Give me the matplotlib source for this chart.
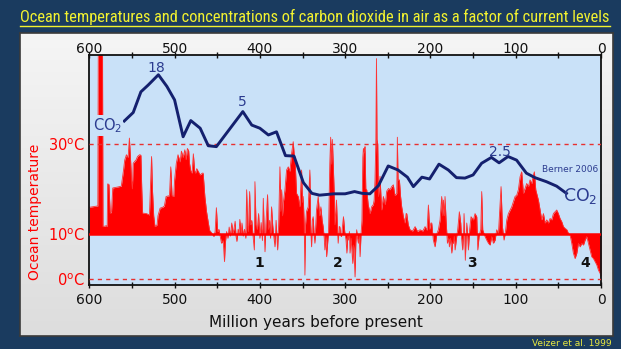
import numpy as np
import matplotlib
matplotlib.use('Agg')
import matplotlib.pyplot as plt
from matplotlib.lines import Line2D
from matplotlib import font_manager

# ocean temperature (Veizer et al. 1999), age in Myr before present
temp_age = [600, 590, 589.5, 584.5, 584, 580, 579, 578.5, 577, 575.5, 574, 572.5, 567, 562.5,
            560, 558.5, 556.5, 554.5, 553, 551.5, 550.5, 549.5, 548.5, 545, 543.5, 541, 539.5,
            538.5, 537.5, 533, 529.5, 528, 527, 526, 524.5, 523, 520.5, 519.5, 517, 514, 512,
            510, 506, 504.5, 503, 501, 500, 498, 496, 493.5, 492, 490, 488, 486.5, 485, 483.5,
            482.5, 481, 479.5, 478, 476.5, 475.5, 474, 470, 467.5, 466.5, 464.5, 462.5, 460.5,
            459, 456.5, 454, 452.5,
            451, 449.5, 448, 446.5, 445, 443, 441.5, 440.5, 439, 437.5, 436, 434.5, 433, 431.5,
            430, 429, 428, 427, 425.5, 424.5, 423.5, 422, 421, 419.5, 418, 416.5, 415.5, 414.5,
            413.5, 412, 411, 409.5, 408, 406.5, 405.8, 404.5, 403, 401.5, 400, 398.5, 397, 396,
            395, 394, 393, 391, 390, 388.5, 387.5, 386.3, 385, 384, 382.3, 381, 379.2, 378,
            376.5, 375.5, 374.5, 373.5, 372.5, 370.6, 368.7, 366.7, 364.8, 362.8, 360.9, 359.5,
            358.9, 357, 355, 353.1, 351.1, 350, 349.2, 348, 347.2, 346.5, 345.3, 343.3, 341.4,
            340.5, 339.4, 338.5, 337.5, 336.5, 335.5, 334.5, 333.6, 331.6, 330, 328.5, 327,
            325.8, 324.5, 323.8, 322.5, 321.8, 320.5, 319.5, 318, 317, 316, 315, 314, 313, 312,
            310.2, 309, 308.2, 307, 306.3, 305, 304.3,
            302, 300.5, 299, 298, 297, 296.2, 295, 294.3, 293, 291.1, 290, 288.4, 287.5, 286.5,
            285.5, 284.5, 283.5, 282.5, 281.5, 280.3, 279.3, 278.6, 277.5, 276.7, 275.8, 274.7,
            273, 271.6, 270.8, 269, 267, 266, 265, 264, 263.3, 262.7, 261.8, 261, 259.1, 258,
            257.1, 255.2, 253, 251.3, 249, 247.4, 245.5, 243.5, 242.5, 241.5, 239.5, 238.8, 238,
            236.4, 235, 233.7, 231.7, 229.8, 228.5, 227.8, 226, 223.9, 221, 218, 215, 212.2,
            209, 206.3, 204, 202.4, 201, 199.5, 198.5, 196.6, 194.6, 192.5, 190.7, 188.7, 186.8,
            185.5, 184.8, 183.5, 182.9, 181.7, 180.1, 178.5, 177.8, 176.5, 175, 174, 173.1, 172,
            171.1, 169.5, 168, 166.1, 164.5, 163.5, 162.2, 161.2, 160.6, 159.1, 158,
            157.4, 155.5, 154, 152.4, 149.6, 147.7, 145.7, 144.5, 143, 141, 139.9, 138.7, 136,
            134, 132, 130.1, 128.1, 126.2, 124.2, 122.3, 120.3, 118.4, 117.2, 115.6, 113.7, 112,
            110.5, 108.6, 104.7, 100.8, 98.8, 96.9, 94.9, 93, 91, 89, 87.1, 85.1, 83.2, 81.2,
            79.3, 78.1, 76.5, 73.4, 71.4, 69.5, 67.5, 65.6, 63.6, 61.7, 59.7, 57.8, 55.8, 53.9,
            51.9, 50, 48, 46, 44.1, 42.1, 40, 38.2, 36.3, 34.3, 32.4, 30.4, 28.4, 26.5, 24.5,
            22.6, 20.6, 18.7, 16.7, 14.8, 12.8, 10.9, 8.9, 7, 5, 3, 1.1, 0]
temp_c = [15.9, 16.2, 50, 50, 11.6, 11.8, 11.6, 21.1, 21.0, 14.6, 14.8, 20.2, 20.4, 20.6,
          24.0, 26.4, 27.6, 27.0, 31.3, 26.0, 22.0, 20.0, 25.7, 26.5, 27.2, 27.6, 27.5,
          20.0, 14.6, 14.5, 14.2, 22.0, 27.2, 20.0, 14.0, 11.6, 12.0, 14.0, 15.7, 15.9, 16.2,
          18.3, 18.5, 24.9, 18.5, 18.3, 22.0, 25.7, 27.6, 26.0, 28.4, 27.0, 28.7, 26.5, 29.0, 28.5,
          25.7, 24.0, 23.5, 27.8, 24.0, 23.5, 24.5, 23.1, 23.5, 23.5, 18.3, 14.9, 12.5,
          10.8, 10.2, 9.4, 10.5,
          15.8, 10.5, 11.0, 9.5, 7.9, 8.5, 3.8, 8.0, 10.5, 9.0, 11.5, 9.5, 12.4, 10.0,
          11.5, 12.8, 9.5, 8.3, 11.0, 10.0, 13.2, 10.0, 12.4, 9.5, 11.0, 9.0, 19.8, 12.0,
          10.5, 19.4, 12.0, 13.0, 9.5, 6.4, 21.6, 12.0, 11.0, 14.5, 9.0, 12.5, 8.5, 17.9,
          11.0, 6.0, 12.0, 18.7, 11.0, 13.0, 9.0, 16.0, 12.0, 10.0, 7.1, 13.0, 6.4, 12.0,
          24.9, 15.0, 19.8, 14.0, 17.0, 19.8, 24.2, 24.9, 23.9, 27.9, 30.5, 27.0,
          27.2, 19.0, 18.3, 16.0, 24.2, 17.0, 18.3, 12.0, 0.8, 12.0, 15.0, 16.0, 24.2,
          12.0, 7.1, 13.0, 13.8, 10.0, 7.9, 12.0, 15.3, 18.3, 14.0, 16.0, 13.0,
          11.6, 9.0, 6.4, 9.5, 4.9, 8.0, 10.5, 25.7, 31.5, 25.5, 31.0, 25.7, 20.0, 12.0,
          17.5, 11.0, 7.9, 11.6, 11.6, 9.5, 9.4,
          13.8, 10.5, 8.6, 5.7, 9.5, 8.6, 10.5, 5.7, 9.0, 3.4, 7.5, 0.4, 8.0, 10.9,
          9.0, 7.9, 9.5, 4.9, 9.5, 13.0, 27.0, 29.0, 28.0, 29.4, 20.0, 19.8,
          16.5, 15.3, 14.5, 16.0, 16.5, 17.5, 22.0, 31.0, 49.0, 31.0, 30.0, 18.3, 22.8, 18.3,
          15.3, 18.3, 16.5, 19.5, 20.1, 19.8, 20.5, 20.9, 19.5, 18.5, 19.0, 31.5, 22.0,
          22.0, 18.3, 16.0, 13.8, 12.4, 14.5, 14.5, 12.0, 10.9, 10.6, 11.6, 10.5, 10.9,
          10.6, 11.6, 10.8, 16.4, 11.0, 12.4, 12.4, 8.6, 7.1, 10.0, 10.9, 13.1, 18.3,
          14.0, 17.5, 14.0, 18.3, 13.1, 7.9, 9.0, 7.1, 9.0, 5.7, 8.0, 7.9, 9.5,
          6.4, 9.0, 11.0, 14.9, 12.4, 9.0, 6.4, 10.0, 14.5, 4.1, 10.0,
          12.4, 6.4, 11.0, 13.8, 13.1, 14.5, 13.8, 6.4, 9.4, 11.0, 19.4, 10.9, 9.4,
          8.6, 7.9, 7.5, 9.4, 7.9, 8.6, 10.9, 10.0, 16.7, 20.5, 11.6, 8.6, 10.5,
          13.1, 14.5, 16.0, 18.3, 18.6, 19.8, 22.7, 23.8, 19.0, 20.1, 21.2, 20.5, 22.0, 21.2,
          23.1, 23.8, 19.8, 17.5, 15.3, 13.1, 14.5, 12.4, 13.1, 12.4, 13.4, 13.1, 14.5, 14.9,
          15.3, 14.5, 13.4, 12.7, 11.6, 11.2, 10.9, 10.1, 9.8, 7.9, 5.7, 4.5, 5.7, 7.9, 7.1,
          7.9, 7.5, 8.6, 9.4, 7.9, 6.4, 4.9, 4.5, 3.8, 3.1, 1.9, 1.2, 0.4]

# CO2 curve (Berner 2006), drawn on the temperature axis as a schematic overlay
co2_age = [559, 548.5, 539.5, 531, 519, 509, 500, 490, 481, 470, 460.5, 451, 420, 409.5, 400,
           390, 380.5, 370, 360, 349, 339, 330, 313, 300, 289, 280, 271, 261, 249.5, 238, 227,
           220, 210, 201, 190, 179, 169.5, 159.5, 150, 140, 128.5, 119.5, 109, 99, 87.5, 77.5,
           64, 52, 40.5]
co2_level = [35.1, 37.0, 41.6, 43.1, 45.4, 42.8, 39.8, 31.6, 35.2, 33.5, 29.6, 29.4, 37.2, 34.2,
             33.5, 32.0, 32.7, 27.4, 27.3, 21.4, 19.0, 18.6, 18.9, 18.9, 19.4, 19.0, 18.9, 20.7,
             25.1, 24.2, 22.6, 20.5, 22.6, 22.2, 25.5, 24.2, 22.5, 22.4, 23.1, 25.7, 27.0, 25.8,
             27.2, 26.4, 23.5, 22.5, 21.6, 20.6, 19.0]

ytick_vals = [0, 10, 30]
ytick_text = [r'0$^{\rm o}$C', r'10$^{\rm o}$C', r'30$^{\rm o}$C']
glaciations = [(400.7, '1'), (309, '2'), (151.6, '3'), (17.9, '4')]
co2_peaks = [(521, 46.9, '18'), (420, 39.4, '5'), (119, 28.3, '2.5')]

W, H = 621, 349
navy_bg = '#1a3b5f'
red = '#ff0000'
co2_col = '#14206e'
lab_col = '#2b3b8f'
sky = '#c9e1f8'


def first_font(names):
    for n in names:
        try:
            font_manager.findfont(font_manager.FontProperties(family=n), fallback_to_default=False)
            return n
        except Exception:
            pass
    return 'DejaVu Sans'


fig = plt.figure(figsize=(W / 100, H / 100), dpi=100, facecolor=navy_bg)

# light panel behind the chart
panel = fig.add_axes([20 / W, 1 - 336 / H, 593 / W, 303 / H])
grad = np.linspace(0, 1, 100).reshape(-1, 1)
panel.imshow(grad, aspect='auto', cmap=matplotlib.colors.LinearSegmentedColormap.from_list(
    'p', ['#f5f5f5', '#dddddd']), extent=[0, 1, 1, 0])
panel.set_xlim(0, 1)
panel.set_ylim(1, 0)
panel.set_xticks([])
panel.set_yticks([])
for s in panel.spines.values():
    s.set_color('#3a3a3a')
    s.set_linewidth(1.2)

ax = fig.add_axes([89.3 / W, 1 - 285 / H, 511.7 / W, 230 / H])
ax.set_facecolor(sky)
ax.set_xlim(600, 0)
ax.set_ylim(-1.4, 49.8)

ta = np.array(temp_age)
tc = np.array(temp_c)
ax.fill_between(ta, 10, tc, color=red, lw=0, interpolate=True, zorder=2)
ax.plot(ta, tc, color='#ff3030', lw=0.6, zorder=2)
ax.axhline(10, color=red, lw=1.8, zorder=3)
for yv in (30, 0):
    ax.axhline(yv, color='#e83030', lw=1.0, ls=(0, (3, 3)), zorder=3)

ax.plot(co2_age, co2_level, color=co2_col, lw=2.1, solid_joinstyle='round', zorder=4)

for x, y, s in co2_peaks:
    ax.text(x, y, s, color=lab_col, fontsize=10, ha='center', va='center', zorder=5)
ax.text(578.5, 34.1, r'CO$_2$', color=lab_col, fontsize=10.5, ha='center', va='center', zorder=5,
        bbox=dict(boxstyle='square,pad=0.05', fc=sky, ec='none'))
ax.text(24, 18.4, r'CO$_2$', color=lab_col, fontsize=12.5, ha='center', va='center', zorder=5)
ax.text(36, 24.2, 'Berner 2006', color=lab_col, fontsize=6.5, ha='center', va='center', zorder=5)
for x, s in glaciations:
    ax.text(x, 3.5, s, color='#111111', fontsize=10, fontweight='bold', ha='center', va='center',
            zorder=5)

ax.set_xticks(range(0, 601, 100))
ax.set_xticks(range(50, 600, 100), minor=True)
ax.tick_params(axis='x', which='both', top=True, direction='inout',
               colors='#111111', labelsize=10, length=5, width=1, pad=3)
top = ax.secondary_xaxis('top')
top.set_xticks(range(0, 601, 100))
top.tick_params(axis='x', length=0, labelsize=10, colors='#111111', pad=-1)
top.spines['top'].set_visible(False)
ax.set_yticks(ytick_vals)
ax.set_yticklabels(ytick_text)
ax.tick_params(axis='y', length=0, labelcolor=red, labelsize=10.5, pad=3)
for s in ax.spines.values():
    s.set_color('#111111')
    s.set_linewidth(1.3)
ax.set_xlabel('Million years before present', fontsize=11, color='#111111')
ax.xaxis.set_label_coords(0.443, -0.13)
ax.set_ylabel('Ocean temperature', fontsize=10, color=red)
ax.yaxis.set_label_coords(-0.092, 0.32)

# title, underlined
title_font = first_font(['Liberation Sans Narrow', 'Roboto Condensed', 'Liberation Sans'])
title = fig.text(315 / W, 1 - 17 / H,
                 'Ocean temperatures and concentrations of carbon dioxide in air as a factor of current levels',
                 color='#f2f230', fontsize=12, ha='center', va='center', family=title_font)
fig.canvas.draw()
bb = title.get_window_extent()
title.set_fontsize(12 * 594 / bb.width)
fig.canvas.draw()
bb = title.get_window_extent()
fig.add_artist(Line2D([bb.x0 / W, bb.x1 / W], [1 - 26 / H, 1 - 26 / H], color='#f2f230', lw=1))

fig.text(612 / W, 1 - 344 / H, 'Veizer et al. 1999', color='#e8e840', fontsize=6.5,
         ha='right', va='center')

fig.savefig('out.png', dpi=100, facecolor=navy_bg)
